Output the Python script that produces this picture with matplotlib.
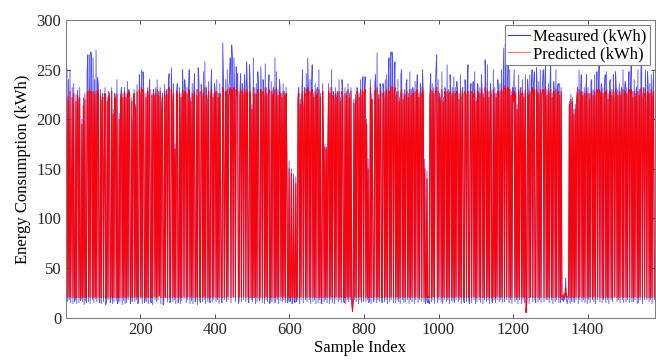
import matplotlib
matplotlib.use('Agg')
import matplotlib.pyplot as plt
import numpy as np

plt.rcParams['font.family'] = ['Liberation Serif', 'DejaVu Serif']

# every 2nd sample
sample_step = 2
measured = [
    255, 250, 16, 240, 18, 250, 15, 115, 232, 14, 236, 16, 18, 225, 14, 229, 220, 15, 232, 17, 19, 200, 16, 222, 13, 226, 18, 15, 250, 265, 16, 265, 14, 268, 262, 18, 262, 15, 240, 19,
    270, 16, 242, 236, 18, 15, 230, 14, 222, 226, 16, 162, 232, 13, 17, 222, 18, 228, 225, 15, 19, 232, 14, 210, 16, 226, 222, 17, 240, 14, 18, 206, 16, 225, 232, 13, 226, 17, 232, 14,
    226, 15, 238, 18, 230, 222, 14, 17, 222, 16, 200, 230, 16, 215, 18, 235, 14, 15, 245, 228, 19, 250, 14, 248, 230, 15, 18, 226, 16, 232, 14, 228, 240, 17, 15, 226, 13, 230, 225, 18,
    232, 16, 240, 18, 228, 24, 232, 14, 210, 226, 13, 17, 235, 20, 228, 230, 16, 238, 246, 15, 17, 252, 222, 16, 236, 18, 175, 14, 228, 236, 15, 18, 232, 14, 226, 17, 250, 228, 19, 240,
    226, 15, 232, 18, 230, 250, 14, 222, 17, 236, 14, 226, 246, 16, 19, 230, 13, 252, 240, 17, 15, 235, 228, 16, 248, 18, 258, 14, 232, 222, 16, 238, 18, 15, 232, 250, 16, 226, 18, 236,
    228, 16, 240, 18, 226, 14, 236, 145, 17, 15, 277, 240, 18, 140, 240, 16, 250, 18, 232, 238, 262, 15, 275, 262, 20, 262, 230, 16, 253, 228, 246, 14, 18, 228, 246, 16, 236, 230, 18, 245,
    236, 16, 258, 232, 18, 15, 255, 230, 18, 215, 16, 262, 20, 232, 14, 236, 16, 248, 235, 17, 18, 253, 222, 15, 240, 230, 14, 256, 18, 232, 16, 226, 245, 14, 19, 238, 16, 228, 232, 15,
    262, 15, 248, 18, 230, 14, 240, 232, 17, 226, 16, 236, 18, 228, 15, 232, 160, 15, 18, 158, 16, 18, 150, 14, 16, 145, 18, 15, 142, 16, 18, 226, 232, 14, 220, 18, 225, 250, 15, 215,
    232, 18, 246, 16, 262, 228, 18, 240, 14, 232, 255, 16, 226, 18, 236, 14, 230, 232, 15, 250, 18, 226, 15, 14, 236, 178, 16, 175, 18, 172, 15, 170, 236, 14, 232, 18, 250, 15, 228, 224,
    14, 232, 18, 226, 228, 16, 240, 18, 222, 15, 240, 228, 17, 15, 232, 14, 228, 18, 236, 16, 226, 18, 232, 14, 8, 15, 220, 18, 225, 16, 232, 230, 14, 226, 18, 240, 15, 228, 243, 16,
    228, 243, 16, 200, 18, 160, 15, 17, 240, 14, 226, 140, 16, 18, 236, 245, 15, 267, 18, 225, 16, 236, 232, 18, 15, 236, 226, 16, 240, 18, 245, 14, 236, 262, 16, 268, 18, 268, 255, 15,
    232, 258, 15, 228, 18, 240, 16, 222, 14, 245, 250, 18, 226, 15, 230, 16, 236, 240, 18, 226, 14, 248, 18, 230, 16, 232, 226, 14, 238, 18, 228, 245, 15, 226, 18, 236, 232, 16, 250, 228,
    16, 160, 14, 18, 148, 15, 18, 14, 230, 246, 16, 236, 18, 232, 14, 228, 250, 265, 15, 240, 18, 226, 218, 16, 248, 14, 222, 18, 232, 228, 16, 255, 18, 230, 14, 245, 226, 17, 232, 16,
    243, 15, 232, 18, 238, 228, 16, 226, 18, 245, 14, 226, 232, 18, 15, 240, 230, 16, 236, 255, 18, 14, 228, 236, 15, 226, 238, 18, 248, 14, 222, 16, 236, 226, 18, 232, 15, 245, 228, 14,
    226, 18, 260, 232, 16, 255, 18, 228, 14, 236, 228, 16, 15, 250, 18, 232, 15, 226, 18, 240, 228, 16, 236, 18, 250, 15, 232, 272, 16, 276, 266, 18, 240, 262, 15, 250, 18, 228, 14, 232,
    222, 250, 16, 232, 18, 215, 14, 245, 18, 228, 232, 14, 240, 18, 226, 15, 245, 6, 15, 240, 228, 14, 245, 20, 226, 250, 16, 236, 248, 18, 15, 252, 228, 16, 238, 18, 250, 15, 226, 236,
    250, 16, 238, 255, 18, 230, 18, 236, 15, 232, 265, 18, 226, 14, 238, 228, 16, 250, 18, 232, 236, 15, 236, 15, 232, 18, 20, 16, 22, 18, 40, 20, 14, 18, 20, 218, 14, 225, 16, 222,
    16, 210, 15, 215, 18, 225, 232, 14, 250, 18, 226, 245, 16, 228, 18, 232, 15, 226, 245, 14, 232, 18, 226, 15, 238, 240, 18, 230, 16, 245, 14, 226, 248, 18, 232, 258, 16, 226, 236, 15,
    232, 18, 228, 245, 15, 248, 18, 226, 14, 238, 240, 18, 230, 16, 245, 222, 20, 248, 232, 16, 230, 18, 236, 15, 226, 232, 18, 250, 15, 228, 238, 16, 232, 18, 226, 248, 15, 230, 255, 16,
    228, 16, 240, 18, 225, 232, 14, 250, 15, 230, 18, 248, 265, 14, 225, 232, 18, 250, 216, 18, 248, 230, 16, 236, 18, 245, 14, 228, 248, 18,
]
predicted = [
    225, 222, 20, 218, 21, 228, 20, 120, 222, 20, 226, 21, 20, 218, 20, 224, 215, 20, 222, 20, 21, 195, 20, 214, 20, 220, 21, 20, 226, 228, 21, 230, 20, 228, 226, 20, 228, 20, 225, 21,
    228, 20, 230, 226, 21, 20, 224, 20, 218, 222, 20, 158, 226, 20, 21, 218, 20, 224, 221, 20, 21, 228, 20, 205, 20, 222, 219, 20, 226, 20, 21, 200, 20, 220, 225, 20, 222, 21, 228, 20,
    222, 20, 226, 21, 228, 220, 20, 21, 218, 20, 195, 226, 20, 212, 21, 228, 20, 20, 230, 224, 21, 232, 20, 230, 226, 20, 21, 222, 20, 228, 20, 225, 230, 21, 20, 224, 20, 226, 222, 21,
    226, 20, 230, 21, 224, 22, 228, 20, 205, 222, 20, 21, 228, 20, 224, 225, 20, 230, 232, 20, 21, 230, 218, 20, 226, 21, 170, 20, 224, 228, 20, 21, 226, 20, 222, 20, 230, 224, 21, 228,
    220, 20, 226, 21, 224, 230, 20, 218, 21, 226, 20, 222, 228, 20, 21, 224, 20, 230, 226, 21, 20, 228, 222, 20, 226, 21, 232, 20, 224, 218, 20, 228, 21, 20, 226, 230, 20, 222, 21, 228,
    224, 20, 228, 21, 222, 20, 226, 140, 21, 20, 232, 226, 20, 135, 228, 20, 230, 21, 224, 226, 232, 20, 230, 228, 21, 232, 226, 20, 230, 224, 228, 20, 21, 224, 230, 20, 228, 225, 21, 230,
    226, 20, 230, 224, 21, 20, 228, 224, 20, 210, 21, 232, 20, 226, 21, 225, 20, 230, 226, 20, 21, 230, 218, 20, 228, 224, 20, 232, 21, 226, 20, 222, 230, 20, 21, 228, 20, 224, 226, 20,
    230, 20, 232, 21, 224, 20, 228, 226, 21, 222, 20, 228, 21, 224, 20, 226, 155, 20, 21, 150, 20, 21, 145, 20, 20, 140, 21, 20, 135, 20, 21, 220, 226, 20, 215, 21, 220, 228, 20, 212,
    226, 21, 230, 20, 232, 224, 21, 228, 20, 226, 230, 20, 222, 21, 228, 20, 224, 226, 20, 230, 21, 222, 20, 20, 228, 175, 20, 172, 21, 170, 20, 168, 228, 20, 226, 21, 232, 20, 224, 220,
    20, 226, 21, 222, 224, 20, 228, 21, 218, 20, 228, 222, 21, 20, 226, 20, 224, 21, 230, 20, 222, 21, 228, 20, 6, 20, 216, 21, 220, 20, 228, 226, 20, 222, 21, 230, 20, 224, 228, 20,
    224, 230, 20, 195, 21, 150, 20, 21, 232, 20, 220, 135, 20, 21, 228, 230, 20, 232, 21, 220, 20, 224, 228, 21, 20, 226, 222, 20, 228, 21, 230, 20, 224, 228, 20, 232, 21, 233, 232, 20,
    226, 232, 20, 224, 21, 228, 20, 218, 20, 226, 230, 21, 220, 20, 224, 20, 226, 228, 21, 222, 20, 230, 21, 224, 20, 226, 222, 20, 228, 21, 224, 230, 20, 222, 21, 228, 226, 20, 230, 224,
    20, 150, 20, 21, 140, 20, 21, 20, 224, 230, 20, 228, 21, 226, 20, 224, 230, 232, 20, 228, 21, 222, 215, 20, 230, 21, 218, 20, 228, 224, 20, 228, 21, 226, 20, 228, 222, 21, 226, 20,
    228, 20, 226, 21, 228, 224, 20, 220, 21, 230, 20, 222, 226, 21, 20, 228, 224, 20, 226, 228, 21, 20, 224, 228, 20, 222, 226, 21, 230, 20, 218, 20, 228, 222, 21, 226, 20, 230, 224, 20,
    222, 20, 232, 226, 20, 230, 21, 222, 20, 228, 224, 20, 20, 230, 21, 226, 20, 222, 21, 228, 224, 20, 228, 21, 230, 20, 226, 232, 20, 234, 230, 21, 228, 232, 20, 230, 21, 224, 20, 226,
    218, 228, 20, 226, 21, 210, 20, 230, 21, 224, 226, 20, 228, 21, 222, 20, 230, 5, 20, 226, 224, 20, 228, 21, 222, 232, 20, 228, 230, 20, 21, 230, 224, 20, 226, 21, 230, 20, 224, 228,
    230, 20, 226, 232, 20, 224, 21, 228, 20, 226, 230, 21, 222, 20, 228, 224, 20, 230, 21, 226, 228, 20, 224, 20, 228, 21, 22, 20, 24, 21, 30, 22, 20, 21, 22, 215, 20, 220, 21, 218,
    20, 205, 20, 210, 21, 220, 226, 20, 230, 21, 222, 228, 20, 224, 21, 226, 20, 222, 228, 20, 226, 21, 220, 20, 226, 228, 20, 224, 21, 228, 20, 222, 230, 21, 226, 230, 20, 222, 228, 20,
    226, 20, 222, 228, 20, 230, 21, 220, 20, 226, 228, 20, 224, 20, 228, 218, 21, 230, 226, 20, 224, 21, 228, 20, 222, 226, 21, 230, 20, 224, 228, 20, 226, 21, 222, 230, 20, 224, 230, 20,
    222, 20, 228, 21, 220, 226, 20, 228, 20, 224, 21, 230, 232, 20, 220, 226, 21, 230, 212, 20, 228, 224, 20, 226, 21, 230, 20, 222, 228, 20,
]

idx_m = np.arange(len(measured)) * sample_step + 1
idx_p = np.arange(len(predicted)) * sample_step + 1

fig = plt.figure(figsize=(6.56, 3.6), dpi=100)
ax = fig.add_axes([0.101, 0.118, 0.897, 0.826])

ax.plot(idx_m, measured, color='#0000ff', lw=0.6, alpha=0.7, label='Measured (kWh)')
ax.plot(idx_p, predicted, color='#ff0000', lw=0.8, alpha=0.95, label='Predicted (kWh)')

ax.set_xlim(1, 1580)
ax.set_ylim(0, 300)
ax.set_xticks([200, 400, 600, 800, 1000, 1200, 1400])
ax.set_yticks([0, 50, 100, 150, 200, 250, 300])
ax.tick_params(direction='in', top=True, right=True, labelsize=12, colors='#262626',
               length=3, width=0.6)
for s in ax.spines.values():
    s.set_color('#7f7f7f')
    s.set_linewidth(0.8)

ax.set_xlabel('Sample Index', fontsize=12, labelpad=1)
ax.set_ylabel('Energy Consumption (kWh)', fontsize=12)

leg = ax.legend(loc='upper right', fontsize=12, handlelength=1.3, handletextpad=0.2,
                borderpad=0.2, labelspacing=0.1, borderaxespad=0.3, fancybox=False,
                framealpha=1)
leg.get_frame().set_edgecolor('#7f7f7f')
leg.get_frame().set_linewidth(0.8)
for h, a in zip(leg.get_lines(), [0.8, 0.55]):
    h.set_alpha(a)
    h.set_linewidth(0.8)

fig.savefig('out.png', dpi=100)
